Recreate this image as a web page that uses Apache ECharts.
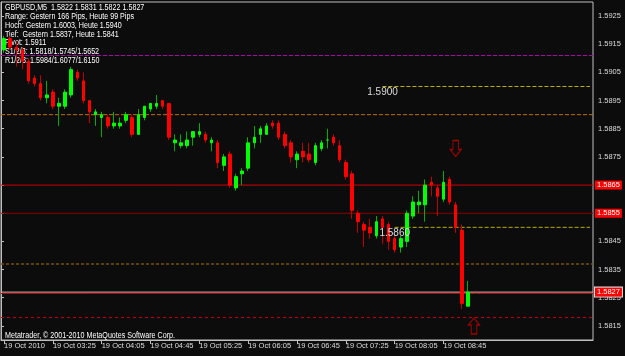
<!DOCTYPE html>
<html><head><meta charset="utf-8">
<script src="https://cdn.jsdelivr.net/npm/echarts@6/dist/echarts.min.js"></script>
<style>html,body{margin:0;padding:0;background:#0c0c0c;}#c{width:625px;height:356px;}</style>
</head><body><div id="c"></div>
<script>
// ---- data ----
const startHour = 2, startMin = 45, barMinutes = 5, slotCount = 97;
const xTickLabels = ['19 Oct 2010','19 Oct 03:25','19 Oct 04:05','19 Oct 04:45','19 Oct 05:25','19 Oct 06:05','19 Oct 06:45','19 Oct 07:25','19 Oct 08:05','19 Oct 08:45'];
const yTickValues = [1.5815,1.5825,1.5835,1.5845,1.5855,1.5865,1.5875,1.5885,1.5895,1.5905,1.5915,1.5925];
const openP  = [1.5913,1.5917,1.5914,1.5913,1.5909,1.5903,1.5901,1.5896,1.5898,1.5893,1.5893,1.5897,1.5905,1.5902,1.5895,1.5890,1.5889,1.5889,1.5886,1.5886,
                1.5888,1.5889,1.5883,1.5889,1.5892,1.5893,1.5895,1.5894,1.5880,1.5879,1.5879,1.5882,1.5883,1.5883,1.5880,1.5880,1.5872,1.5876,1.5864,1.5869,
                1.5871,1.5880,1.5883,1.5883,1.5887,1.5887,1.5883,1.5880,1.5874,1.5877,1.5876,1.5873,1.5878,1.5881,1.5882,1.5879,1.5873,1.5869,1.5855,1.5851,
                1.5850,1.5847,1.5853,1.5851,1.5846,1.5843,1.5845,1.5854,1.5858,1.5858,1.5866,1.5864,1.5860,1.5867,1.5858,1.5849,1.5822];
const closeP = [1.5917,1.5914,1.5913,1.5909,1.5902,1.5901,1.5896,1.5897,1.5893,1.5894,1.5898,1.5906,1.5903,1.5895,1.5891,1.5891,1.5890,1.5886,1.5887,1.5887,
                1.5890,1.5883,1.5890,1.5893,1.5894,1.5894,1.5893,1.5882,1.5881,1.5880,1.5881,1.5884,1.5884,1.5881,1.5881,1.5873,1.5875,1.5865,1.5868,1.5870,
                1.5880,1.5882,1.5885,1.5886,1.5886,1.5882,1.5879,1.5875,1.5876,1.5875,1.5874,1.5879,1.5880,1.5881,1.5880,1.5874,1.5868,1.5856,1.5852,1.5849,
                1.5848,1.5852,1.5850,1.5845,1.5842,1.5846,1.5855,1.5859,1.5859,1.5865,1.5865,1.5861,1.5866,1.5859,1.5850,1.5823,1.5827];
const lowP   = [1.5912,1.5913,1.5907,1.5906,1.5901,1.5900,1.5895,1.5894,1.5892,1.5886,1.5892,1.5896,1.5902,1.5894,1.5887,1.5886,1.5882,1.5885,1.5885,1.5885,
                1.5887,1.5882,1.5883,1.5888,1.5891,1.5892,1.5892,1.5881,1.5877,1.5878,1.5878,1.5879,1.5882,1.5880,1.5877,1.5871,1.5870,1.5864,1.5863,1.5865,
                1.5870,1.5878,1.5880,1.5883,1.5885,1.5881,1.5878,1.5873,1.5871,1.5873,1.5873,1.5872,1.5877,1.5878,1.5879,1.5873,1.5867,1.5853,1.5848,1.5843,
                1.5846,1.5846,1.5844,1.5842,1.5841,1.5841,1.5843,1.5853,1.5855,1.5852,1.5861,1.5854,1.5859,1.5858,1.5848,1.5821,1.5822];
const highP  = [1.5918,1.5918,1.5916,1.5914,1.5910,1.5904,1.5904,1.5902,1.5899,1.5896,1.5899,1.5907,1.5906,1.5905,1.5895,1.5892,1.5891,1.5890,1.5891,1.5889,
                1.5891,1.5890,1.5892,1.5893,1.5894,1.5897,1.5895,1.5894,1.5883,1.5883,1.5884,1.5884,1.5887,1.5884,1.5882,1.5881,1.5876,1.5877,1.5869,1.5871,
                1.5882,1.5886,1.5886,1.5887,1.5888,1.5888,1.5884,1.5881,1.5877,1.5880,1.5880,1.5880,1.5881,1.5885,1.5883,1.5881,1.5874,1.5870,1.5856,1.5852,
                1.5853,1.5854,1.5854,1.5852,1.5847,1.5847,1.5856,1.5861,1.5863,1.5867,1.5868,1.5865,1.5870,1.5868,1.5859,1.5851,1.5831];
// horizontal levels
const pivotLevel = 1.5911;
const s1Level = 1.5818;
const prevLowLevel = 1.5837;
const orangeLevel = 1.5890;
const resLevels = [1.5865, 1.5855];
const bidLevel = 1.5827;
const redBidLevel = 1.58265;
const trendLevels = [1.5900, 1.5850];
const trendStartIdx = [62, 64];
const trendTexts = ['1.5900', '1.5860'];
const trendTextIdx = [60, 62];
const arrowDown = [74, 1.5878];
const arrowUp = [77, 1.5815];
const infoLines = [
  'GBPUSD,M5  1.5822 1.5831 1.5822 1.5827',
  'Range: Gestern 166 Pips, Heute 99 Pips',
  'Hoch: Gestern 1.6003, Heute 1.5940',
  'Tief:  Gestern 1.5837, Heute 1.5841',
  'Pivot: 1.5911',
  'S1/2/3: 1.5818/1.5745/1.5652',
  'R1/2/3: 1.5984/1.6077/1.6150'
];
const footerText = 'Metatrader, \u00a9 2001-2010 MetaQuotes Software Corp.';

// ---- build ----
const FONT = "'Liberation Sans',Arial,sans-serif";
const categories = [];
for (let i = 0; i < slotCount; i++) {
  const t = startHour * 60 + startMin + i * barMinutes;
  const hh = String(Math.floor(t / 60)).padStart(2, '0'), mm = String(t % 60).padStart(2, '0');
  categories.push(hh + ':' + mm);
}
const fullData = openP.map((o, i) => [o, closeP[i], lowP[i], highP[i]]);
const bodyData = openP.map((o, i) => [o, closeP[i], Math.min(o, closeP[i]), Math.max(o, closeP[i])]);
const tickShown = (idx) => idx % 8 === 0 && idx / 8 < xTickLabels.length;

// full-width horizontal level lines on a hidden 0..1 x axis
function levelSeries(v, color, type, width, label, border) {
  return {
    type: 'line', xAxisIndex: 1, data: [[0, v], [1, v]], symbol: 'none', silent: true, z: 1,
    lineStyle: { color: color, type: type, width: width || 1 },
    emphasis: { disabled: true },
    endLabel: label ? { show: true, formatter: label, color: '#ffffff', backgroundColor: '#ff0000',
      borderColor: border || 'transparent', borderWidth: border ? 1 : 0,
      fontFamily: FONT, fontSize: 7.5, padding: [1, 2, 0, 2], distance: 2 } : { show: false }
  };
}
const levelSeriesList = [
  levelSeries(pivotLevel, '#b400b4', [4, 2]),
  levelSeries(orangeLevel, '#c07000', [4, 2]),
  levelSeries(prevLowLevel, '#7a5000', [3, 2], 1.5),
  levelSeries(s1Level, '#d00000', [3, 3]),
  levelSeries(resLevels[0], '#d00000', 'solid', 1, '1.5865'),
  levelSeries(resLevels[1], '#8c0000', 'solid', 1, '1.5855'),
  levelSeries(redBidLevel, '#c00000', 'solid'),
  levelSeries(bidLevel, '#c0c0c0', 'solid', 1, '1.5827', '#e0e0e0'),
];
const trendSeriesList = trendLevels.map((v, k) => ({
  type: 'line', data: [[trendStartIdx[k], v], [slotCount - 1, v]], symbol: 'none', silent: true, z: 1,
  lineStyle: { color: '#c0b000', type: [4, 2], width: 1 }, emphasis: { disabled: true }
}));
const markPointData = trendTexts.map((t, k) => ({
  coord: [trendTextIdx[k], trendLevels[k]], symbolSize: 0,
  label: { show: true, formatter: t, position: 'right', distance: 0, offset: [-3, 6], color: '#dcdcdc', fontSize: 10, fontFamily: FONT }
}));

const graphics = infoLines.map((t, k) => ({
  type: 'text', x: 5, y: 3 + k * 8.9, scaleX: 0.84, silent: true,
  style: { text: t, x: 0, y: 0, fill: '#ffffff', font: '8.5px ' + FONT, verticalAlign: 'top' }
}));
graphics.push({ type: 'text', x: 5, y: 331, scaleX: 0.84, silent: true, style: { text: footerText, x: 0, y: 0, fill: '#ffffff', font: '8.5px ' + FONT, verticalAlign: 'top' } });

const chart = echarts.init(document.getElementById('c'), null, { renderer: 'canvas' });
chart.setOption({
  backgroundColor: '#0c0c0c',
  animation: false,
  grid: { left: 1, right: 32, top: 2, bottom: 16, show: true, borderColor: '#c0c0c0', borderWidth: 1 },
  xAxis: [{
    type: 'category', data: categories, boundaryGap: true,
    axisLine: { show: true, lineStyle: { color: '#c0c0c0' } },
    axisTick: { show: true, alignWithLabel: true, interval: tickShown, length: 4, lineStyle: { color: '#c0c0c0' } },
    axisLabel: { interval: tickShown, formatter: (v, idx) => xTickLabels[idx / 8], align: 'left', margin: 2,
      color: '#dcdcdc', fontSize: 7.5, fontFamily: FONT },
    splitLine: { show: false }
  }, {
    type: 'value', min: 0, max: 1, show: false, position: 'top'
  }],
  yAxis: {
    type: 'value', position: 'right', min: 1.5810, max: 1.5930, scale: true,
    axisLine: { show: true, lineStyle: { color: '#c0c0c0' } },
    axisTick: { show: true, length: 3, customValues: yTickValues, lineStyle: { color: '#c0c0c0' } },
    axisLabel: { customValues: yTickValues, formatter: (v) => v.toFixed(4), margin: 5, color: '#dcdcdc', fontSize: 7.5, fontFamily: FONT },
    splitLine: { show: false }
  },
  graphic: graphics,
  series: [
    ...levelSeriesList,
    ...trendSeriesList,
    { type: 'candlestick', data: fullData, barWidth: 1, z: 2,
      itemStyle: { color: '#00b000', color0: '#c00000', borderColor: '#00b000', borderColor0: '#c00000', borderWidth: 1 } },
    { type: 'candlestick', data: bodyData, barWidth: 3, z: 3,
      itemStyle: { color: '#00ff00', color0: '#ff0000', borderColor: '#00ff00', borderColor0: '#ff0000', borderWidth: 1 },
      markPoint: { silent: true, data: markPointData } },
    { type: 'scatter', z: 4, data: [arrowDown], symbol: 'path://M3,0 L9,0 L9,9 L12,9 L6,16 L0,9 L3,9 Z', symbolSize: [11, 16],
      itemStyle: { color: '#0c0c0c', borderColor: '#c00000', borderWidth: 1.2 } },
    { type: 'scatter', z: 4, data: [arrowUp], symbol: 'path://M6,0 L12,7 L9,7 L9,16 L3,16 L3,7 L0,7 Z', symbolSize: [11, 16],
      itemStyle: { color: '#0c0c0c', borderColor: '#c00000', borderWidth: 1.2 } }
  ]
});
</script></body></html>
